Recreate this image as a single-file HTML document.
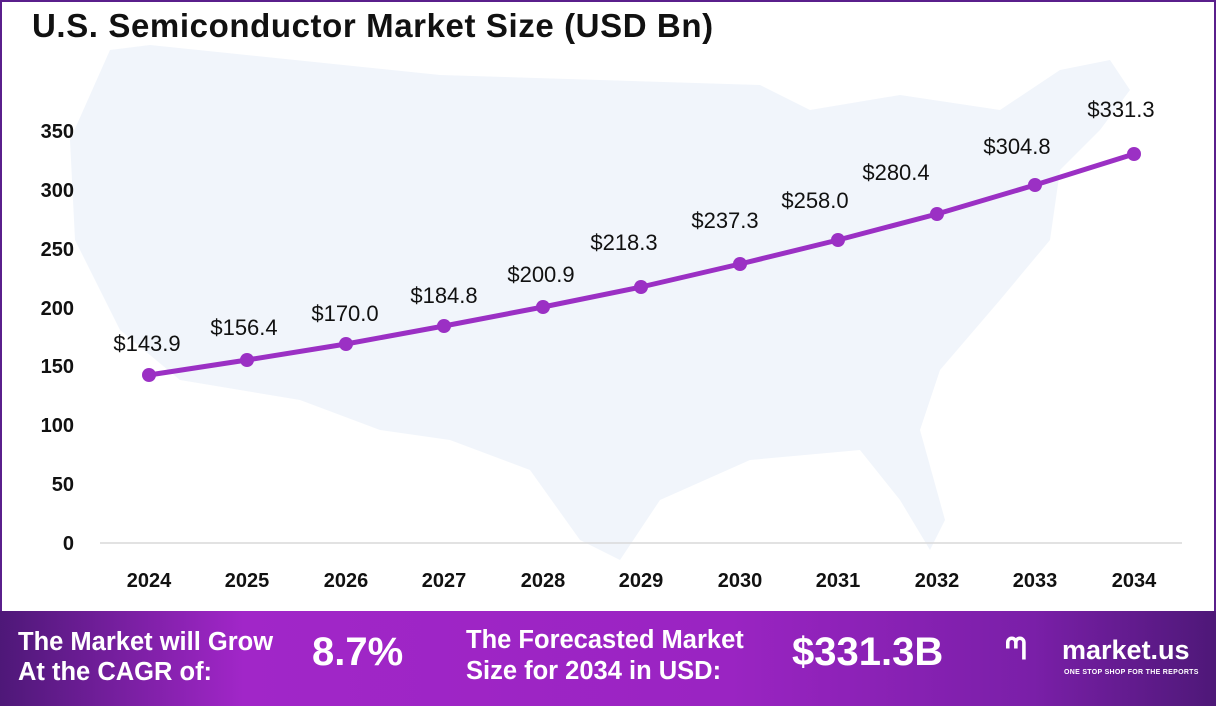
<!DOCTYPE html>
<html><head><meta charset="utf-8"><style>
body{margin:0;width:1216px;height:706px;overflow:hidden;font-family:"Liberation Sans",sans-serif;background:#fff}
.wrap{position:absolute;left:0;top:0;width:1212px;height:610px;border:2px solid #5a1f8c;border-bottom:none;background:#fff}
.title{position:absolute;left:32px;top:7px;font-size:33px;font-weight:bold;color:#111;letter-spacing:0.6px}
.foot{position:absolute;left:0;top:611px;width:1216px;height:95px;background:linear-gradient(90deg,#4e1878 0%,#a126c8 20%,#9a24c2 60%,#7a1fa8 85%,#4e1878 100%);color:#fff;font-weight:bold}
.foot div{position:absolute}
</style></head><body>
<div class="wrap"></div>
<svg width="1216" height="610" style="position:absolute;left:0;top:0">
<path d="M110,50 L150,45 L440,75 L760,85 L810,110 L900,95 L1000,110 L1060,70 L1110,60 L1130,90 L1100,130 L1060,170 L1050,240 L1000,300 L940,370 L920,430 L945,520 L930,550 L900,500 L860,450 L750,460 L660,500 L620,560 L580,540 L530,470 L450,440 L380,430 L300,400 L180,380 L120,330 L75,240 L70,140 Z" fill="#f1f5fb"/>
<line x1="100" y1="543" x2="1182" y2="543" stroke="#d9d9d9" stroke-width="1.5"/>
<g font-family="Liberation Sans" font-weight="bold" font-size="20" fill="#111" text-anchor="end">
<text x="74" y="550">0</text><text x="74" y="491">50</text><text x="74" y="432">100</text><text x="74" y="373">150</text><text x="74" y="315">200</text><text x="74" y="256">250</text><text x="74" y="197">300</text><text x="74" y="138">350</text>
</g>
<g font-family="Liberation Sans" font-weight="bold" font-size="20" fill="#111" text-anchor="middle">
<text x="149" y="587">2024</text><text x="247" y="587">2025</text><text x="346" y="587">2026</text><text x="444" y="587">2027</text><text x="543" y="587">2028</text><text x="641" y="587">2029</text><text x="740" y="587">2030</text><text x="838" y="587">2031</text><text x="937" y="587">2032</text><text x="1035" y="587">2033</text><text x="1134" y="587">2034</text>
</g>
<polyline fill="none" stroke="#9b30c4" stroke-width="5" stroke-linejoin="round" points="149,375 247,360 346,344 444,326 543,307 641,287 740,264 838,240 937,214 1035,185 1134,154"/>
<g fill="#9b30c4">
<circle cx="149" cy="375" r="7"/><circle cx="247" cy="360" r="7"/><circle cx="346" cy="344" r="7"/><circle cx="444" cy="326" r="7"/><circle cx="543" cy="307" r="7"/><circle cx="641" cy="287" r="7"/><circle cx="740" cy="264" r="7"/><circle cx="838" cy="240" r="7"/><circle cx="937" cy="214" r="7"/><circle cx="1035" cy="185" r="7"/><circle cx="1134" cy="154" r="7"/>
</g>
<g font-family="Liberation Sans" font-size="22" fill="#111" text-anchor="middle">
<text x="147" y="351">$143.9</text><text x="244" y="335">$156.4</text><text x="345" y="321">$170.0</text><text x="444" y="303">$184.8</text><text x="541" y="282">$200.9</text><text x="624" y="250">$218.3</text><text x="725" y="228">$237.3</text><text x="815" y="208">$258.0</text><text x="896" y="180">$280.4</text><text x="1017" y="154">$304.8</text><text x="1121" y="117">$331.3</text>
</g>
</svg>
<div class="title">U.S. Semiconductor Market Size (USD Bn)</div>
<div class="foot">
<div style="left:18px;top:16px;font-size:25.5px;line-height:30px">The Market will Grow<br>At the CAGR of:</div>
<div style="left:312px;top:19px;font-size:40px">8.7%</div>
<div style="left:466px;top:14px;font-size:25.5px;line-height:31px">The Forecasted Market<br>Size for 2034 in USD:</div>
<div style="left:792px;top:19px;font-size:40px">$331.3B</div>
<div style="left:1005px;top:22px;font-size:30px">ᘉ</div>
<div style="left:1062px;top:24px;font-size:27px">market.us</div>
<div style="left:1064px;top:58px;font-size:7px;letter-spacing:0.3px">ONE STOP SHOP FOR THE REPORTS</div>
</div>
</body></html>
